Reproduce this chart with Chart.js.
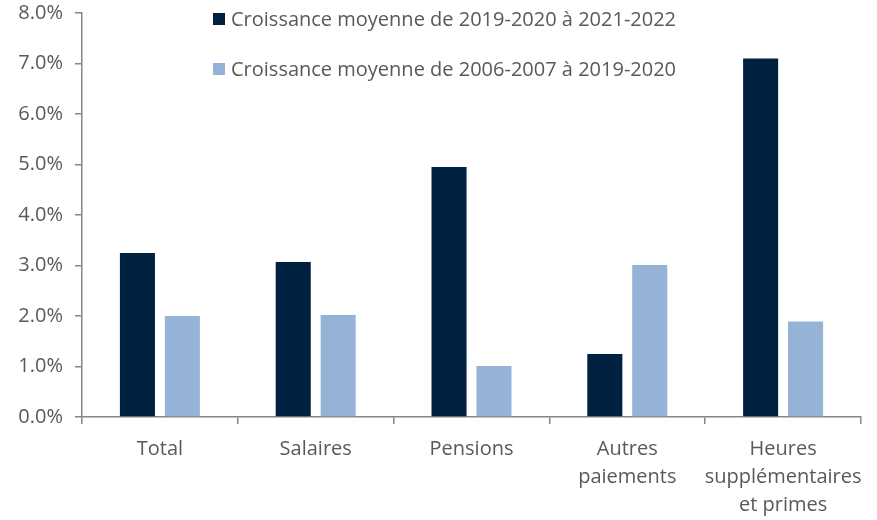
<!DOCTYPE html>
<html>
<head>
<meta charset="utf-8">
<script src="https://cdn.jsdelivr.net/npm/chart.js@4"></script>
<style>
  html, body { margin: 0; padding: 0; background: #fff; }
  #wrap { width: 877px; height: 520px; }
</style>
</head>
<body>
<div id="wrap"><canvas id="chart"></canvas></div>
<script>
const categories = ['Total', 'Salaires', 'Pensions', ['Autres', 'paiements'], ['Heures', 'supplémentaires', 'et primes']];
const seriesNames = ['Croissance moyenne de 2019-2020 à 2021-2022', 'Croissance moyenne de 2006-2007 à 2019-2020'];
const recent = [3.25, 3.07, 4.95, 1.25, 7.1];
const longRun = [2.0, 2.02, 1.01, 3.01, 1.89];
const yTicks = [0, 1, 2, 3, 4, 5, 6, 7, 8];

const textColor = '#595959';
const axisColor = '#868686';
const font = { family: '"Open Sans", "Noto Sans", sans-serif', size: 20, lineHeight: 1.4 };

/* legend drawn inside the plot, top */
const innerLegend = {
  id: 'innerLegend',
  afterDraw(chart) {
    const ctx = chart.ctx;
    ctx.save();
    ctx.font = font.size + 'px ' + font.family;
    ctx.textBaseline = 'middle';
    chart.data.datasets.forEach((ds, i) => {
      const y = 19 + i * 50;
      ctx.fillStyle = ds.backgroundColor;
      ctx.fillRect(213, y - 6, 12, 12);
      ctx.fillStyle = textColor;
      ctx.fillText(ds.label, 231, y + 1);
    });
    ctx.restore();
  }
};

new Chart(document.getElementById('chart'), {
  type: 'bar',
  data: {
    labels: categories,
    datasets: [
      { label: seriesNames[0], data: recent, backgroundColor: '#002240' },
      { label: seriesNames[1], data: longRun, backgroundColor: '#95B3D7' }
    ]
  },
  options: {
    responsive: true,
    maintainAspectRatio: false,
    animation: false,
    layout: { padding: { top: 13, right: 16, left: 0, bottom: 0 } },
    datasets: { bar: { categoryPercentage: 0.577, barPercentage: 0.78 } },
    plugins: { legend: { display: false }, tooltip: { enabled: false } },
    scales: {
      x: {
        grid: { display: true, offset: true, drawOnChartArea: false, drawTicks: true, tickLength: 7, color: axisColor, lineWidth: 1.5 },
        border: { color: axisColor, width: 1.5 },
        ticks: { color: textColor, font: font, padding: 11, maxRotation: 0, autoSkip: false },
        afterFit: s => { s.height = 103; }
      },
      y: {
        min: 0, max: 8,
        afterBuildTicks: s => { s.ticks = yTicks.map(v => ({ value: v })); },
        grid: { display: true, drawOnChartArea: false, drawTicks: true, tickLength: 7, color: axisColor, lineWidth: 1.5 },
        border: { color: axisColor, width: 1.5 },
        ticks: { color: textColor, font: { ...font, lineHeight: 1.2 }, padding: 12, callback: v => v.toFixed(1) + '%' },
        afterFit: s => { s.width = 82; s.paddingTop = 0; s.paddingBottom = 0; }
      }
    }
  },
  plugins: [innerLegend]
});
</script>
</body>
</html>
